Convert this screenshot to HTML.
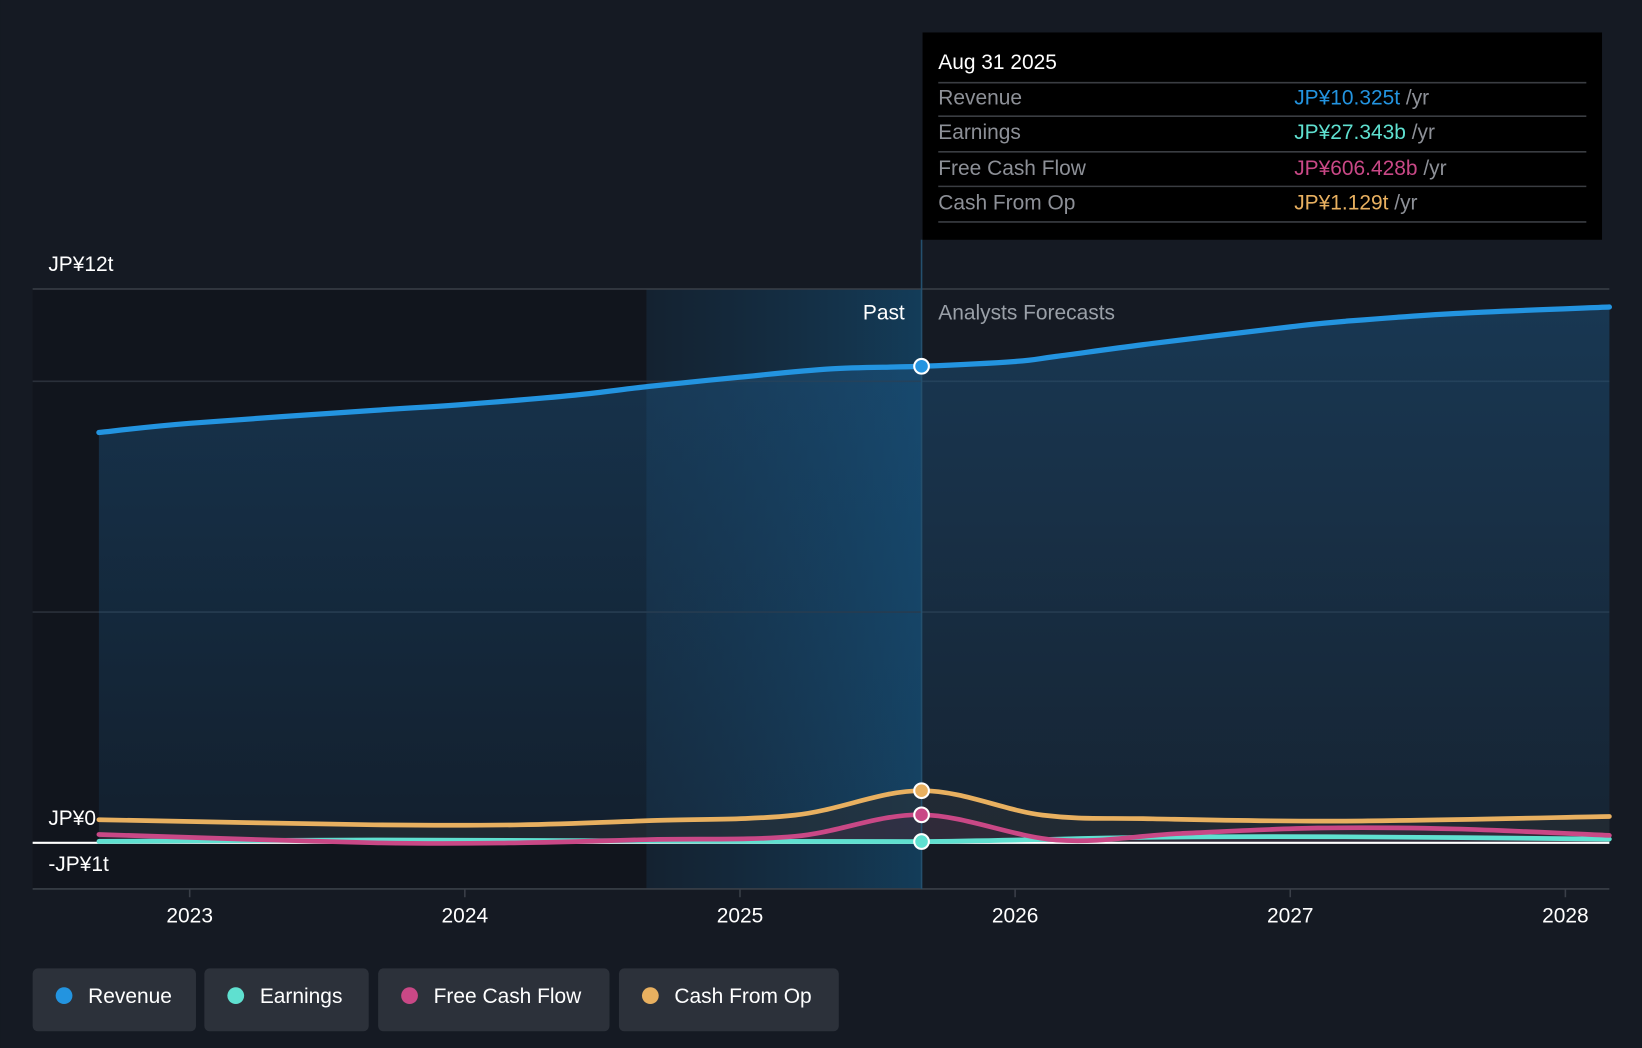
<!DOCTYPE html>
<html><head><meta charset="utf-8"><style>
html,body{margin:0;padding:0;background:#151a23;overflow:hidden}
svg{display:block;font-family:"Liberation Sans","Noto Sans CJK JP",sans-serif}
</style></head><body>
<svg id="chart" width="1642" height="1048" viewBox="0 0 1568 1001" xmlns="http://www.w3.org/2000/svg">
<defs>
<linearGradient id="pastGrad" x1="0" x2="1" y1="0" y2="0">
<stop offset="0" stop-color="#13314a" stop-opacity="0.35"/>
<stop offset="1" stop-color="#13405f" stop-opacity="0.9"/>
</linearGradient>
<linearGradient id="revFill" x1="0" x2="0" y1="0" y2="1">
<stop offset="0" stop-color="#1d5b8c" stop-opacity="0.45"/>
<stop offset="1" stop-color="#1d5b8c" stop-opacity="0.15"/>
</linearGradient>
</defs>
<rect width="1568" height="1001" fill="#151a23"/>
<g id="bg"></g>
<g id="grid"></g>
<g id="series"></g>
<g id="axes"></g>
<g id="tooltip"></g>
<g id="legend"></g>
</svg>
<script>
const years=[2022.67,2023,2023.67,2024,2024.4,2024.67,2025,2025.33,2025.66,2026,2026.15,2026.5,2027,2027.2,2027.6,2028.16];
const revenue=[8.89,9.09,9.37,9.5,9.7,9.89,10.09,10.27,10.325,10.43,10.54,10.82,11.18,11.3,11.47,11.61];
const cfoYears=[2022.67,2023.67,2024.2,2024.67,2025.2,2025.66,2026.1,2026.5,2027.2,2028.16];
const cashFromOp=[0.5,0.39,0.39,0.48,0.6,1.129,0.6,0.52,0.47,0.57];
const fcfYears=[2022.67,2023.67,2024.2,2024.67,2025.2,2025.66,2026.15,2026.6,2027.1,2027.6,2028.16];
const freeCashFlow=[0.18,0.0,0.0,0.07,0.14,0.606,0.06,0.2,0.32,0.3,0.16];
const earnYears=[2022.67,2023.67,2024.67,2025.66,2026.5,2027.2,2028.16];
const earnings=[0.03,0.06,0.04,0.027,0.12,0.13,0.08];
const yTicks=[12,0,-1];
const yTickLabels=["JP¥12t","JP¥0","-JP¥1t"];
const xTicks=[2023,2024,2025,2026,2027,2028];
const NS="http://www.w3.org/2000/svg";
const X=v=>181+(v-2023)*262.8;
const Y=v=>805-v*44.08;
function mk(tag,attrs,parent,text){const e=document.createElementNS(NS,tag);for(const k in attrs)e.setAttribute(k,attrs[k]);if(text!==undefined)e.textContent=text;parent.appendChild(e);return e;}
function path(xs,ys){const p=xs.map((x,i)=>[X(x),Y(ys[i])]);let d="M"+p[0][0]+","+p[0][1];for(let i=0;i<p.length-1;i++){const p0=p[i-1]||p[i],p1=p[i],p2=p[i+1],p3=p[i+2]||p2;const c1=[p1[0]+(p2[0]-p0[0])/6,p1[1]+(p2[1]-p0[1])/6],c2=[p2[0]-(p3[0]-p1[0])/6,p2[1]-(p3[1]-p1[1])/6];d+=` C${c1[0]},${c1[1]} ${c2[0]},${c2[1]} ${p2[0]},${p2[1]}`;}return d;}
const bg=document.getElementById('bg'),grid=document.getElementById('grid'),ser=document.getElementById('series'),ax=document.getElementById('axes');
const nowX=X(2025.66);
let r=mk('rect',{x:31,y:276,width:X(2024.66)-31,height:573,fill:'#11151d'},bg);

r=mk('rect',{x:X(2024.66),y:276,width:nowX-X(2024.66),height:573,fill:'url(#pastGrad)'},bg);

[12,10,5].forEach(v=>{const l=mk('line',{x1:31,x2:1537,y1:Y(v),y2:Y(v),stroke:v==12?'#3a3f48':'#2a303a','stroke-width':1.5},grid);});
let l=mk('line',{x1:31,x2:1537,y1:Y(-1),y2:Y(-1),stroke:'#3a3f48','stroke-width':1.5},grid);

// revenue area
const rp=path(years,revenue);
let a=mk('path',{d:rp+` L${X(years[years.length-1])},${Y(0)} L${X(years[0])},${Y(0)} Z`,fill:'url(#revFill)'},ser);

const cp=path(cfoYears,cashFromOp);
a=mk('path',{d:cp+` L${X(2028.16)},${Y(0)} L${X(2022.67)},${Y(0)} Z`,fill:'#2a2e33',opacity:0.6},ser);

const fp=path(fcfYears,freeCashFlow);
a=mk('path',{d:fp+` L${X(2028.16)},${Y(0)} L${X(2022.67)},${Y(0)} Z`,fill:'#4a2a45',opacity:0.35},ser);

l=mk('line',{x1:31,x2:1537,y1:Y(0),y2:Y(0),stroke:'#ffffff','stroke-width':2},ser);

const lines=[[path(earnYears,earnings),'#5fe0d0','earnings-line'],[fp,'#c94886','free-cash-flow-line'],[cp,'#e8b060','cash-from-op-line'],[rp,'#2394e0','revenue-line']];
lines.forEach(([d,c,n])=>{const p=mk('path',{d:d,fill:'none',stroke:c,'stroke-width':n=='revenue-line'?5:4.5,'stroke-linecap':'round'},ser);});
l=mk('line',{x1:nowX,x2:nowX,y1:229,y2:849,stroke:'#24506e','stroke-width':1.5},ser);

[[revenue[8],'#2394e0','revenue-point'],[cashFromOp[5],'#e8b060','cash-from-op-point'],[freeCashFlow[5],'#c94886','fcf-point'],[earnings[3],'#5fe0d0','earnings-point']].forEach(([v,c,n])=>{const ci=mk('circle',{cx:nowX,cy:Y(v),r:7,fill:c,stroke:'#fff','stroke-width':2},ser);});
let t=mk('text',{x:864,y:305,fill:'#fff','font-size':20,'text-anchor':'end'},ax,'Past');

t=mk('text',{x:896,y:305,fill:'#9aa0a8','font-size':20},ax,'Analysts Forecasts');

const ly=[259,788,832];
yTicks.forEach((v,i)=>{const tt=mk('text',{x:46,y:ly[i],fill:'#fff','font-size':20},ax,yTickLabels[i]);});
xTicks.forEach(v=>{const tk=mk('line',{x1:X(v),x2:X(v),y1:849,y2:857,stroke:'#3a3f48','stroke-width':1.5},ax);
const tt=mk('text',{x:X(v),y:881,fill:'#fff','font-size':20,'text-anchor':'middle'},ax,String(v));});
// tooltip
const tg=document.getElementById('tooltip');
r=mk('rect',{x:881,y:31,width:649,height:198,fill:'#000'},tg);
t=mk('text',{x:896,y:66,fill:'#fff','font-size':20},tg,'Aug 31 2025');
[79,111,145,178,212].forEach(y=>{const s=mk('line',{x1:896,x2:1515,y1:y,y2:y,stroke:'#3a3d42','stroke-width':1.5},tg);});
const rows=[['Revenue','JP¥10.325t','#2394e0',100],['Earnings','JP¥27.343b','#5fe0d0',133],['Free Cash Flow','JP¥606.428b','#c94886',167],['Cash From Op','JP¥1.129t','#e8b060',200]];
rows.forEach(([n,v,c,y])=>{let e=mk('text',{x:896,y:y,fill:'#8d9097','font-size':20},tg,n);
e=mk('text',{x:1236,y:y,fill:c,'font-size':20},tg);
mk('tspan',{},e,v);mk('tspan',{fill:'#8d9097'},e,' /yr');});
// legend
const lg=document.getElementById('legend');
[['Revenue','#2394e0',31,156],['Earnings','#5fe0d0',195,157],['Free Cash Flow','#c94886',361,221],['Cash From Op','#e8b060',591,210]].forEach(([n,c,x,w])=>{const g=mk('g',{},lg);
mk('rect',{x:x,y:925,width:w,height:60,rx:5,fill:'#2c313a'},g);
mk('circle',{cx:x+30,cy:951,r:8,fill:c},g);
mk('text',{x:x+53,y:958,fill:'#fff','font-size':20},g,n);});
</script>
</body></html>
